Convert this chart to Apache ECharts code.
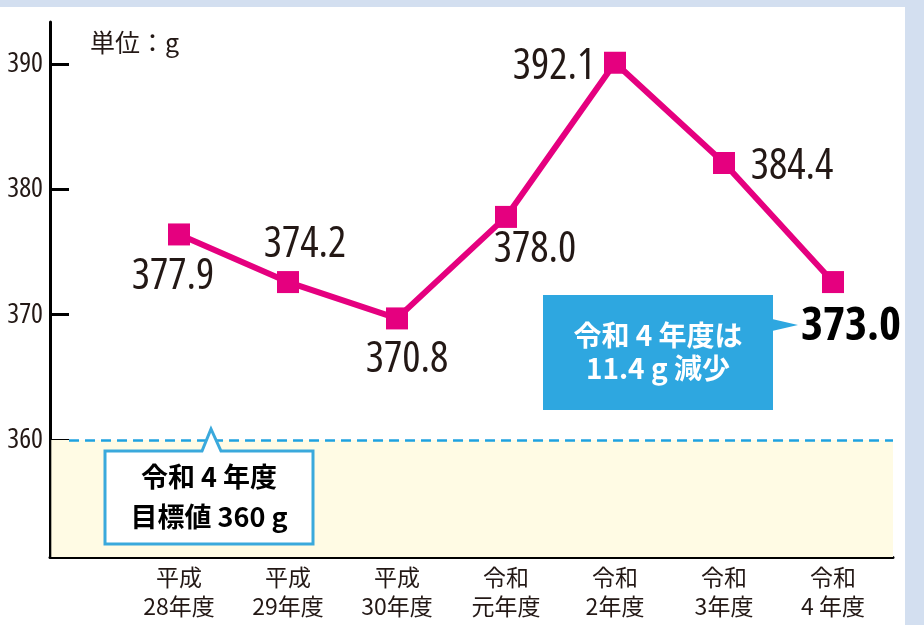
<!DOCTYPE html>
<html><head><meta charset="utf-8">
<script src="https://cdn.jsdelivr.net/npm/echarts@6/dist/echarts.min.js"></script>
<style>html,body{margin:0;padding:0;background:#d3dff0}#c{width:924px;height:625px}</style>
</head><body><div id="c"></div>
<script>
// ---- data ----
const categories = ['平成\n28年度','平成\n29年度','平成\n30年度','令和\n元年度','令和\n2年度','令和\n3年度','令和\n4 年度'];
const values = [376.4, 372.6, 369.7, 377.8, 390.1, 382.1, 372.6];   // plotted positions
const valueLabels = ['377.9','374.2','370.8','378.0','392.1','384.4','373.0'];
const yTicks = [360, 370, 380, 390];
const targetValue = 360;
const unitText = '単位：g';
const targetText = ['令和 4 年度', '目標値 360 g'];
const noteText = ['令和 4 年度は', '11.4 g 減少'];

// ---- styles / layout ----
const labelOffsets = [[-6,42],[17,-37],[10,41],[29,33],[-61,4],[68,4],[18,45]];
const INK = '#231815';
const NARROW = '"Open Sans","Noto Sans",sans-serif';
const CJK = '"Noto Sans CJK JP","Noto Sans",sans-serif';
const X_MIN = -1.18349, X_MAX = 6.55046;
const Y_MIN = 350.664, Y_MAX = 393.351;

const seriesData = values.map((v, i) => {
  const last = i === values.length - 1;
  return {
    value: [i, v],
    label: {formatter: valueLabels[i], offset: labelOffsets[i], fontSize: last ? 47 : 43, fontWeight: last ? 'bold' : 'normal', color: last ? '#000' : INK}
  };
});
const idx = categories.map((c, i) => i);

const chart = echarts.init(document.getElementById('c'));
chart.setOption({
  animation: false,
  grid: {left: 50, right: 31, top: 22, bottom: 68},
  xAxis: {
    type: 'value', min: X_MIN, max: X_MAX, splitLine: {show: false},
    axisLine: {show: true, onZero: false, lineStyle: {color: '#000', width: 3}},
    axisTick: {show: true, inside: true, length: 7, lineStyle: {color: '#000', width: 3}, customValues: idx},
    axisLabel: {customValues: idx, margin: 6, formatter: v => categories[Math.round(v)], color: INK, fontFamily: CJK, fontSize: 23, lineHeight: 29}
  },
  yAxis: {
    type: 'value', min: Y_MIN, max: Y_MAX, splitLine: {show: false},
    axisLine: {show: true, onZero: false, lineStyle: {color: '#000', width: 3}},
    axisTick: {show: true, inside: true, length: 19, lineStyle: {color: '#000', width: 3}, customValues: yTicks},
    axisLabel: {customValues: yTicks, margin: 7, color: INK, fontFamily: NARROW, fontStyle: 'condensed', fontSize: 28}
  },
  series: [{
    type: 'line', data: seriesData, symbol: 'rect', symbolSize: 22,
    itemStyle: {color: '#e5007f'}, lineStyle: {color: '#e5007f', width: 6},
    label: {show: true, position: 'inside', fontFamily: NARROW, fontStyle: 'condensed', align: 'center', verticalAlign: 'middle'},
    markArea: {silent: true, itemStyle: {color: '#fffbe4'}, data: [[{coord: [X_MIN + 0.012, Y_MIN]}, {coord: [X_MAX, targetValue]}]]},
    markLine: {silent: true, symbol: 'none', label: {show: false}, lineStyle: {color: '#1fa2e0', width: 2.5, type: [10, 6]},
      data: [[{coord: [-1.009, targetValue]}, {coord: [X_MAX, targetValue]}]]}
  }],
  graphic: [
    {type: 'rect', z: -10, silent: true, shape: {x: 0, y: 7, width: 905, height: 618}, style: {fill: '#ffffff'}},
    {type: 'text', z: 50, x: 90, y: 42, style: {text: unitText, font: '25px ' + CJK, fill: INK, verticalAlign: 'middle'}},
    {type: 'polygon', z: 50, shape: {points: [[105,451],[202,451],[211,429],[221,451],[313,451],[313,544],[105,544]]}, style: {fill: '#ffffff', stroke: '#3aa9dc', lineWidth: 3}},
    {type: 'text', z: 51, x: 209, y: 477, style: {text: targetText[0], font: 'bold 27px ' + CJK, fill: '#000', align: 'center', verticalAlign: 'middle'}},
    {type: 'text', z: 51, x: 209, y: 517, style: {text: targetText[1], font: 'bold 27px ' + CJK, fill: '#000', align: 'center', verticalAlign: 'middle'}},
    {type: 'rect', z: 50, shape: {x: 543, y: 295, width: 230, height: 115}, style: {fill: '#2ea7e0'}},
    {type: 'polygon', z: 50, shape: {points: [[772,319],[798,325],[772,331]]}, style: {fill: '#2ea7e0'}},
    {type: 'text', z: 51, x: 658, y: 335, style: {text: noteText[0], font: 'bold 28px ' + CJK, fill: '#fff', align: 'center', verticalAlign: 'middle'}},
    {type: 'text', z: 51, x: 658, y: 368, style: {text: noteText[1], font: 'bold 28px ' + CJK, fill: '#fff', align: 'center', verticalAlign: 'middle'}}
  ]
});
</script></body></html>
